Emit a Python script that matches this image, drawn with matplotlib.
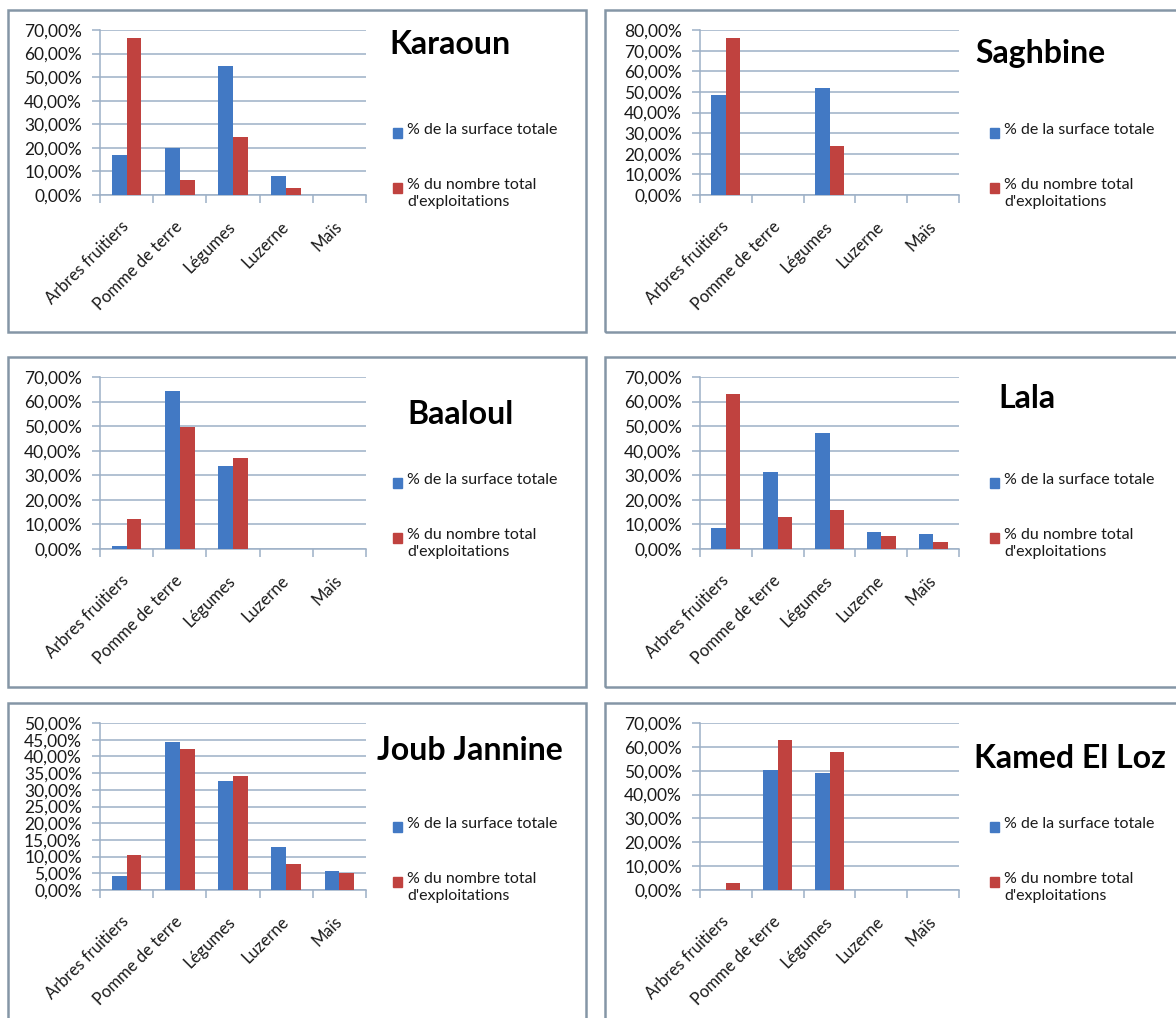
import matplotlib
matplotlib.use("Agg")
import matplotlib.pyplot as plt
from matplotlib.patches import Rectangle
from matplotlib.ticker import FuncFormatter, MultipleLocator
import numpy as np

W, H = 1176, 1018

categories = ["Arbres fruitiers", "Pomme de terre", "Légumes", "Luzerne", "Maïs"]
series_names = ["% de la surface totale", "% du nombre total\nd'exploitations"]
titles = ["Karaoun", "Saghbine", "Baaloul", "Lala", "Joub Jannine", "Kamed El Loz"]

# % of total area / % of total number of farms, per crop
karaoun_surface = [16.9, 20.1, 54.6, 8.0, 0.0]
karaoun_exploit = [66.5, 6.2, 24.4, 2.8, 0.0]
saghbine_surface = [48.5, 0.0, 52.0, 0.0, 0.0]
saghbine_exploit = [76.3, 0.0, 23.9, 0.0, 0.0]
baaloul_surface = [1.1, 64.3, 33.6, 0.0, 0.0]
baaloul_exploit = [12.4, 49.7, 37.2, 0.0, 0.0]
lala_surface = [8.5, 31.2, 47.3, 7.0, 6.2]
lala_exploit = [63.1, 13.2, 15.9, 5.4, 2.8]
joub_surface = [4.1, 44.2, 32.7, 13.0, 5.6]
joub_exploit = [10.6, 42.2, 34.2, 7.7, 5.0]
kamed_surface = [0.0, 50.5, 49.1, 0.0, 0.0]
kamed_exploit = [2.8, 63.0, 57.7, 0.0, 0.0]

y_max = [70, 80, 70, 70, 50, 70]
y_step = [10, 10, 10, 10, 5, 10]

surfaces = [karaoun_surface, saghbine_surface, baaloul_surface,
            lala_surface, joub_surface, kamed_surface]
exploits = [karaoun_exploit, saghbine_exploit, baaloul_exploit,
            lala_exploit, joub_exploit, kamed_exploit]

BLUE = "#4279C4"
RED = "#C0423F"
GRID = "#9DB0C6"
BORDER = "#8596A6"

plt.rcParams["font.family"] = ["Lato", "DejaVu Sans"]

fig = plt.figure(figsize=(W / 100, H / 100), dpi=100)
fig.patch.set_facecolor("white")


def frect(x0, y0, x1, y1):
    return [x0 / W, 1 - y1 / H, (x1 - x0) / W, (y1 - y0) / H]


# layout in pixels
left_col = dict(box=(8, 586), ax=(100, 366), leg_x=393)
right_col = dict(box=(605, 1200), ax=(700, 959), leg_x=990)
rows = [
    dict(box=(10, 332), ax=(30, 195), leg_y=133),
    dict(box=(357, 687), ax=(377, 549), leg_y=483),
    dict(box=(703, 1040), ax=(723, 890), leg_y=827),
]
title_pos = [(450, 45), (1040, 53), (461, 415), (1027, 398), (470, 750), (1070, 758)]

x = np.arange(len(categories))
w = 0.28

for i in range(6):
    col = left_col if i % 2 == 0 else right_col
    row = rows[i // 2]

    bx0, bx1 = col["box"]
    by0, by1 = row["box"]
    fig.add_artist(Rectangle((bx0 / W, 1 - by1 / H), (bx1 - bx0) / W, (by1 - by0) / H,
                             transform=fig.transFigure, fill=False,
                             edgecolor=BORDER, lw=1.8))

    ax0, ax1 = col["ax"]
    ay0, ay1 = row["ax"]
    ax = fig.add_axes(frect(ax0, ay0, ax1, ay1))
    ax.bar(x - w / 2, surfaces[i], w, color=BLUE, zorder=3)
    ax.bar(x + w / 2, exploits[i], w, color=RED, zorder=3)

    ax.set_xlim(-0.5, len(categories) - 0.5)
    ax.set_ylim(0, y_max[i])
    ax.yaxis.set_major_locator(MultipleLocator(y_step[i]))
    ax.yaxis.set_major_formatter(FuncFormatter(lambda v, p: f"{v:.2f}".replace(".", ",") + "%"))
    ax.grid(axis="y", color=GRID, lw=1.1, zorder=0)
    ax.set_axisbelow(True)

    for s in ["top", "right"]:
        ax.spines[s].set_visible(False)
    for s in ["left", "bottom"]:
        ax.spines[s].set_color(GRID)
        ax.spines[s].set_linewidth(1.1)

    ax.set_xticks(x)
    ax.set_xticklabels(categories, rotation=45, ha="right", va="center",
                       rotation_mode="anchor", fontsize=12, color="#1a1a1a")
    ax.tick_params(axis="x", length=0, pad=21)
    ax.set_xticks(np.arange(len(categories) + 1) - 0.5, minor=True)
    ax.tick_params(axis="x", which="minor", length=6, color=GRID, width=1.1)
    ax.tick_params(axis="y", length=6, color=GRID, width=1.1, pad=7,
                   labelsize=12.5, labelcolor="#1a1a1a")

    tx, ty = title_pos[i]
    fig.text(tx / W, 1 - ty / H, titles[i], fontsize=23, fontweight="bold",
             ha="center", va="center", color="black")

    lx = col["leg_x"]
    ly = row["leg_y"]
    for k, (color, name) in enumerate(zip([BLUE, RED], series_names)):
        yy = ly + k * 55
        fig.add_artist(Rectangle((lx / W, 1 - (yy + 5) / H), 9 / W, 10 / H,
                                 transform=fig.transFigure, color=color))
        fig.text((lx + 14) / W, 1 - (yy - 10) / H, name, fontsize=11.5,
                 ha="left", va="top", linespacing=1.25, color="#1a1a1a")

fig.savefig("out.png", dpi=100, facecolor="white")
